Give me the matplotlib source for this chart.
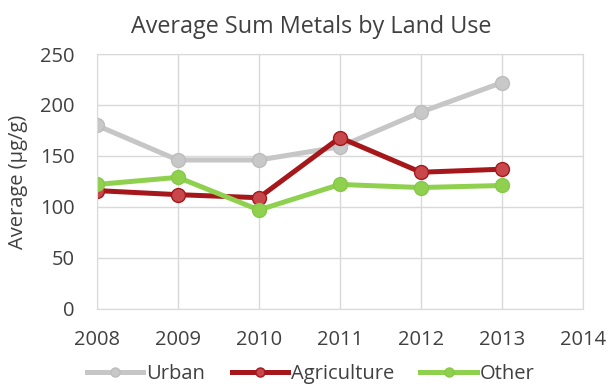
import matplotlib.pyplot as plt
from matplotlib import rcParams

rcParams["font.family"] = ["Open Sans", "DejaVu Sans"]
rcParams["font.size"] = 14.5

years = [2008, 2009, 2010, 2011, 2012, 2013]
urban = [180, 146, 146, 159, 193, 222]
agriculture = [116, 112, 109, 168, 134, 137]
other = [122, 129, 97, 122, 119, 121]

text_c = "#404040"

fig = plt.figure(figsize=(6.13, 3.86), dpi=100)
ax = fig.add_axes([0.158, 0.2, 0.793, 0.66])

ax.plot(years, urban, c="#c6c6c6", lw=3.6, marker="o", ms=10,
        mfc="#c8c8c8", mec="#bdbdbd", label="Urban")
ax.plot(years, agriculture, c="#a5171b", lw=3.6, marker="o", ms=10,
        mfc="#c8474a", mec="#a5171b", label="Agriculture")
ax.plot(years, other, c="#8fd14f", lw=3.6, marker="o", ms=10,
        mfc="#8fd14f", mec="#86c947", label="Other")

ax.set_xlim(2008, 2014)
ax.set_ylim(0, 250)
ax.set_xticks(range(2008, 2015))
ax.set_yticks(range(0, 251, 50))
ax.grid(True, color="#d9d9d9", lw=1)
ax.set_axisbelow(True)
for s in ax.spines.values():
    s.set_color("#d9d9d9")
ax.tick_params(length=0, labelsize=14.5, colors=text_c)
ax.tick_params(axis="x", pad=15)
ax.tick_params(axis="y", pad=16)

ax.set_ylabel("Average (µg/g)", fontsize=14.5, color=text_c)
ax.yaxis.set_label_coords(-0.142, 0.5)
fig.text(0.508, 0.93, "Average Sum Metals by Land Use", fontsize=16.8,
         color=text_c, ha="center", va="center")

leg = fig.legend(*ax.get_legend_handles_labels(), loc="center",
                 bbox_to_anchor=(0.507, 0.03), ncol=3, frameon=False,
                 fontsize=14.5, handlelength=2.8, handletextpad=0.15,
                 columnspacing=1.3, labelcolor=text_c, markerscale=0.65)

fig.savefig("out.png", dpi=100)
